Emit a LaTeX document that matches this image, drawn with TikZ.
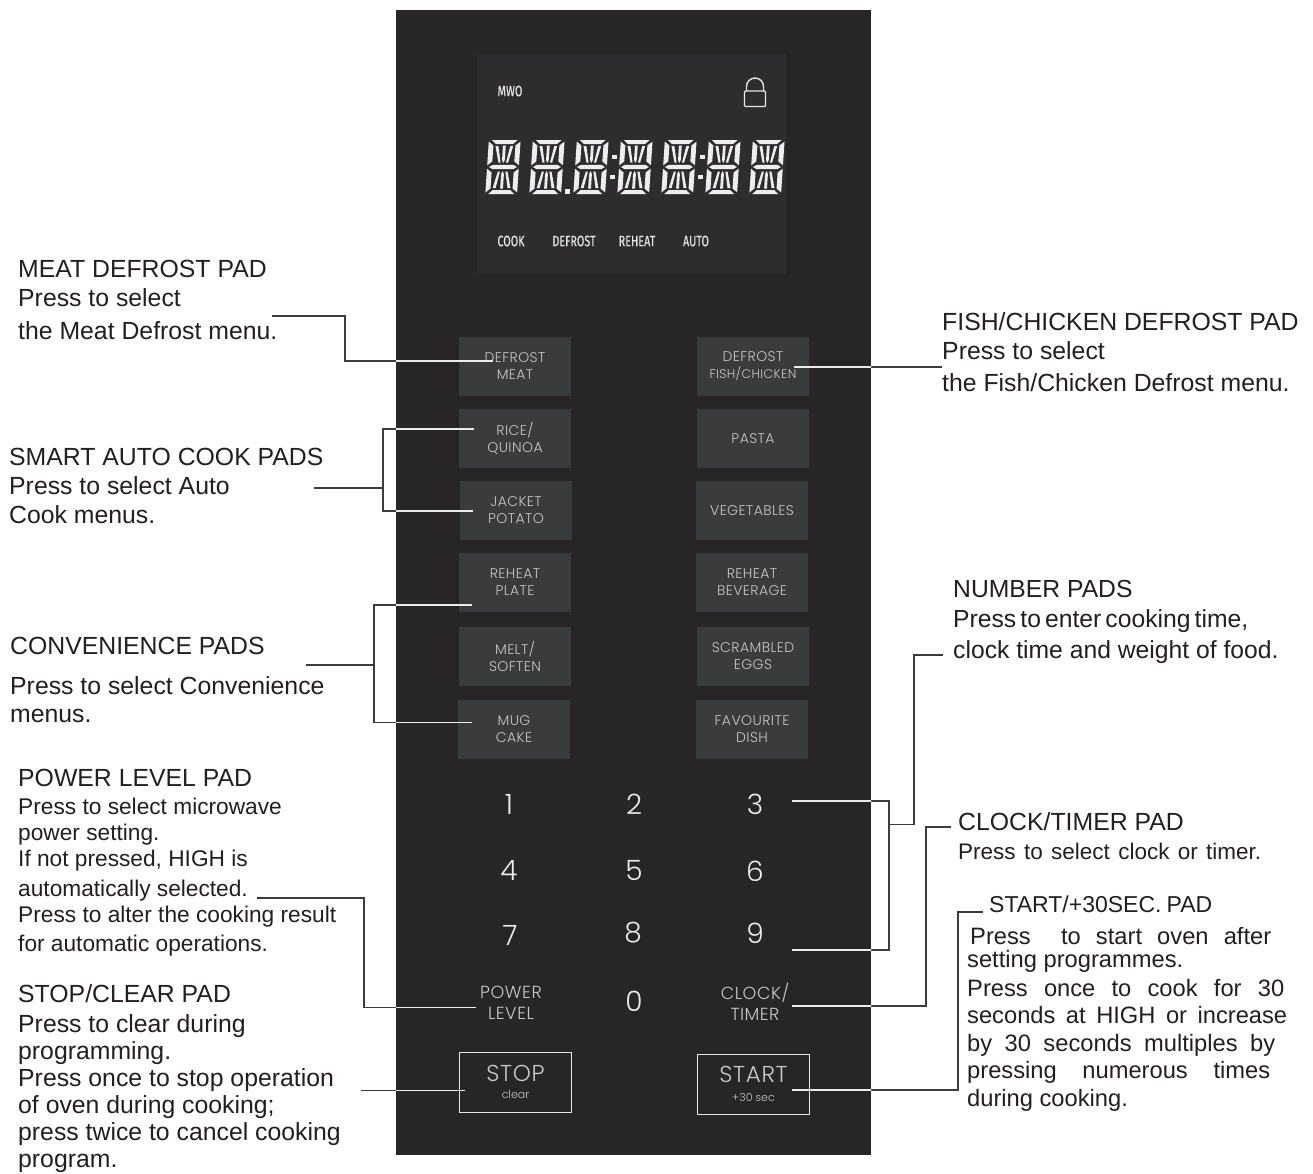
\documentclass[tikz,border=0pt]{standalone}
\usepackage{fontspec}
\setmainfont{Liberation Sans}
\newfontfamily\padf{Poppins Light}[LetterSpace=3]
\newfontfamily\padn{Poppins Light}
\newfontfamily\lcdf{Fira Sans}[FakeStretch=0.72,FakeBold=0.3]
\usetikzlibrary{calc}
\definecolor{panelc}{HTML}{272526}
\definecolor{padc}{HTML}{3A3B3D}
\definecolor{lcdc}{HTML}{2E2C2F}
\definecolor{padt}{HTML}{C8C8C8}
\definecolor{inkc}{HTML}{231F20}
\definecolor{linec}{HTML}{3C3C3C}
\newcommand{\bs}[2]{\fontsize{#1}{#2}\selectfont}
\newcommand{\fl}[2]{\makebox[#1pt][s]{\spaceskip=4.5pt plus 30pt minus 2pt\relax #2}}
\tikzset{
  x=1pt,y=-1pt,
  padbox/.style={fill=padc,draw=none,minimum width=112pt,minimum height=59pt,inner sep=0,align=center,text=padt,font=\padf\bs{14}{17}},
  framebox/.style={draw=white!90!black,line width=1pt,minimum width=112pt,minimum height=60pt,inner sep=0,align=center,text=padt},
  plainkey/.style={inner sep=0,align=center,text=padt,font=\padf\bs{17.5}{21}},
  numkey/.style={inner sep=0,text=white!92!black,font=\padn\bs{28}{30}},
  lcdlabel/.style={inner sep=0,text=white!90!black,font=\lcdf\bs{15}{16}},
  txt/.style={anchor=north west,inner sep=0,align=left,text=inkc},
  blk/.style={draw=linec,line width=1.4pt},
  wht/.style={draw=white!92!black,line width=1.4pt},
  lcdseg/.style={fill=white!93!black,draw=none},
}
\newcommand{\conn}[1]{\draw[blk] #1;\begin{scope}\clip (396,10) rectangle (871,1155);\draw[wht] #1;\end{scope}}
\newcommand{\lcddigit}[2]{\begin{scope}[shift={(#1,#2)},xslant=0.066,xscale=1.08]
 \fill[lcdseg] (3.5,0)--(27.5,0)--(23.5,4)--(7.5,4)--cycle;
 \fill[lcdseg] (3.5,54)--(27.5,54)--(23.5,50)--(7.5,50)--cycle;
 \fill[lcdseg] (2.5,27)--(6,24.8)--(25,24.8)--(28.5,27)--(25,29.2)--(6,29.2)--cycle;
 \fill[lcdseg] (0.8,1.5)--(5.3,5.5)--(5.3,21.5)--(0.8,25.3)--cycle;
 \fill[lcdseg] (30.2,1.5)--(25.7,5.5)--(25.7,21.5)--(30.2,25.3)--cycle;
 \fill[lcdseg] (0.8,28.7)--(5.3,32.5)--(5.3,48.5)--(0.8,52.5)--cycle;
 \fill[lcdseg] (30.2,28.7)--(25.7,32.5)--(25.7,48.5)--(30.2,52.5)--cycle;
 \fill[lcdseg] (7.3,6)--(10,6)--(13,22.5)--(11,22.5)--cycle;
 \fill[lcdseg] (23.7,6)--(21,6)--(18,22.5)--(20,22.5)--cycle;
 \fill[lcdseg] (14.2,5.5)--(16.8,5.5)--(16.8,20)--(15.5,23)--(14.2,20)--cycle;
 \fill[lcdseg] (7.3,48)--(10,48)--(13,31.5)--(11,31.5)--cycle;
 \fill[lcdseg] (23.7,48)--(21,48)--(18,31.5)--(20,31.5)--cycle;
 \fill[lcdseg] (14.2,48.5)--(16.8,48.5)--(16.8,34)--(15.5,31)--(14.2,34)--cycle;
\end{scope}}
\begin{document}
\begin{tikzpicture}
\useasboundingbox (0,0) rectangle (1313,1173);
\fill[white] (0,0) rectangle (1313,1173);
% panel
\fill[panelc] (396,10) rectangle (871,1155);
\fill[lcdc] (477,54) rectangle (786,274);
% display
\node[lcdlabel] (mwo) at (510,91) {MWO};
\node[lcdlabel] (cook) at (511,241) {COOK};
\node[lcdlabel] (defr) at (574,241) {DEFROST};
\node[lcdlabel] (rehe) at (637,241) {REHEAT};
\node[lcdlabel] (auto) at (696,241) {AUTO};
\draw[white!90!black,line width=1.4pt,rounded corners=1pt] (744.5,91) rectangle (765.5,106.5);
\draw[white!90!black,line width=1.4pt] (746.5,91) -- (746.5,86.5) arc[start angle=180,end angle=360,radius=8.5] -- (763.5,91);
\foreach \xx in {488,532,576,620,664,708,752}{\lcddigit{\xx}{140}}
\fill[lcdseg] (564.5,188.5) rectangle (569.5,193.5);
\fill[lcdseg] (611.5,155) rectangle (616.5,159);
\fill[lcdseg] (609.5,175) rectangle (614.5,179);
\fill[lcdseg] (699.5,155) rectangle (704.5,159);
\fill[lcdseg] (697.5,175) rectangle (702.5,179);
% pads
\node[padbox] (p1) at (515,366.5) {DEFROST\\MEAT};
\node[padbox] (p2) at (515,438.5) {RICE/\\QUINOA};
\node[padbox] (p3) at (516,510.5) {JACKET\\POTATO};
\node[padbox] (p4) at (515,582.5) {REHEAT\\PLATE};
\node[padbox] (p5) at (515,656.5) {MELT/\\SOFTEN};
\node[padbox] (p6) at (514,729.5) {MUG\\CAKE};
\node[padbox] (q1) at (753,366.5) {DEFROST\\{\bs{12.5}{17}FISH/CHICKEN}};
\node[padbox] (q2) at (753,438.5) {PASTA};
\node[padbox] (q3) at (752,510.5) {VEGETABLES};
\node[padbox] (q4) at (752,582.5) {REHEAT\\BEVERAGE};
\node[padbox] (q5) at (753,656.5) {SCRAMBLED\\EGGS};
\node[padbox] (q6) at (752,729.5) {FAVOURITE\\DISH};
% number keys
\node[numkey] (n1) at (509,804) {1};
\node[numkey] (n2) at (634,804) {2};
\node[numkey] (n3) at (755,804) {3};
\node[numkey] (n4) at (509,871) {4};
\node[numkey] (n5) at (634,870) {5};
\node[numkey] (n6) at (755,871) {6};
\node[numkey] (n7) at (510,935) {7};
\node[numkey] (n8) at (633,933) {8};
\node[numkey] (n9) at (755,933) {9};
\node[numkey] (n0) at (634,1001) {0};
\node[plainkey] (kp) at (511,1002.5) {POWER\\LEVEL};
\node[plainkey] (kc) at (755,1002) {CLOCK/\\TIMER};
\node[framebox] (stop) at (515.5,1082) {{\padf\bs{23}{24}STOP}\\[5pt]{\padn\bs{11}{12}clear}};
\node[framebox] (start) at (753.5,1084) {{\padf\bs{23}{24}START}\\[7pt]{\padn\bs{11}{12}+30 sec}};
% left texts
\node[txt,font=\bs{24.8}{29}] (tmeat) at (18,260) {MEAT DEFROST PAD\\Press to select\\[4pt]the Meat Defrost menu.};
\node[txt,font=\bs{24.8}{29}] (tsmart) at (9,448) {SMART AUTO COOK PADS\\Press to select Auto\\Cook menus.};
\node[txt,font=\bs{24.8}{40}] (tconv) at (10,637) {CONVENIENCE PADS\\Press to select Convenience\\[-12pt]menus.};
\node[txt,font=\bs{24.8}{29}] (tpow) at (18,769) {POWER LEVEL PAD};
\node[txt,font=\bs{22.7}{27}] (tpowb) at (18,798) {Press to select microwave\\[-1pt]power setting.\\[-1pt]If not pressed, HIGH is\\[3pt]automatically selected.\\[-1pt]Press to alter the cooking result\\[2pt]for automatic operations.};
\node[txt,font=\bs{24.8}{27}] (tstop) at (18,984) {STOP/CLEAR PAD\\[3pt]Press to clear during\\programming.\\Press once to stop operation\\of oven during cooking;\\press twice to cancel cooking\\program.};
% right texts
\node[txt,font=\bs{24.8}{29}] (tfish) at (942,312) {FISH/CHICKEN DEFROST PAD\\Press to select\\[3pt]the Fish/Chicken Defrost menu.};
\node[txt,font=\bs{24.7}{30.5}] (tnum) at (953,580) {NUMBER PADS\\\fl{295}{Press to enter cooking time,}\\clock time and weight of food.};
\node[txt,font=\bs{24.8}{29}] (tclk) at (958,812) {CLOCK/TIMER PAD};
\node[txt,font=\bs{22.5}{24}] (tclkb) at (958,843) {\fl{303}{Press to select clock or timer.}};
\node[txt,font=\bs{23}{24}] (tsta) at (989,895.5) {\fl{223}{START/+30SEC. PAD}};
\node[txt,font=\bs{23.7}{27.5}] (tstab) at (967,927) {\hspace*{3pt}\fl{301}{Press \ to start oven after}\\[-4.5pt]setting programmes.\\[1.5pt]\fl{317}{Press once to cook for 30}\\\fl{320}{seconds at HIGH or increase}\\\fl{308}{by 30 seconds multiples by}\\\fl{303}{pressing numerous times}\\during cooking.};
% connector ends
\coordinate (a1) at (272,316); \coordinate (a2) at (493,361); \coordinate (a3) at (345,316);
\coordinate (b1) at (942,367); \coordinate (b2) at (794,367);
\coordinate (c0) at (314,488); \coordinate (c1) at (383,488); \coordinate (c2) at (474,429); \coordinate (c3) at (473,511);
\coordinate (d0) at (306,665); \coordinate (d1) at (374,665); \coordinate (d2) at (472,605); \coordinate (d3) at (472,722.5);
\coordinate (e1) at (257,898); \coordinate (e2) at (476,1007.5); \coordinate (e3) at (364,898);
\coordinate (f1) at (361,1090.5); \coordinate (f2) at (465,1090.5);
\coordinate (g1) at (983,912); \coordinate (g2) at (792,1090); \coordinate (g3) at (958,912);
\coordinate (h1) at (951,827); \coordinate (h2) at (792,1006); \coordinate (h3) at (926,827);
\coordinate (i1) at (943,655); \coordinate (i2) at (914,655); \coordinate (i3) at (889,824.5);
\coordinate (j1) at (792,801); \coordinate (j2) at (792,950);
% connectors
\conn{(a1) -- (a3) |- (a2)}
\conn{(b1) -- (b2)}
\conn{(c2) -| (c1) |- (c3)}
\conn{(c0) -- (c1)}
\conn{(d2) -| (d1) |- (d3)}
\conn{(d0) -- (d1)}
\conn{(e1) -- (e3) |- (e2)}
\conn{(f1) -- (f2)}
\conn{(g1) -- (g3) |- (g2)}
\conn{(h1) -- (h3) |- (h2)}
\conn{(i1) -- (i2) |- (i3)}
\conn{(j1) -| (i3) |- (j2)}
\end{tikzpicture}
\end{document}
